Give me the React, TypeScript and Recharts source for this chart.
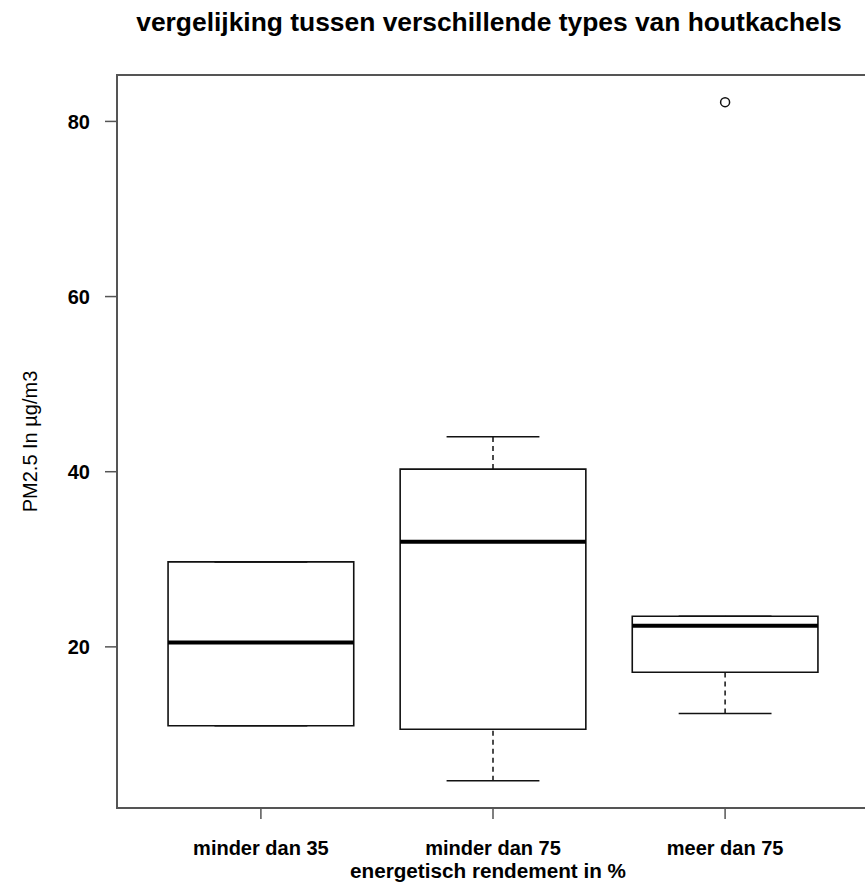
import React from 'react';
import {
  ComposedChart,
  Scatter,
  XAxis,
  YAxis,
  ReferenceArea,
  ReferenceLine,
} from 'recharts';

// values (PM2.5 in µg/m3)
const categories = ['minder dan 35', 'minder dan 75', 'meer dan 75'];
const whiskerLow = [11.0, 4.7, 12.4];
const q1 = [11.0, 10.6, 17.1];
const median = [20.5, 32.0, 22.4];
const q3 = [29.7, 40.3, 23.5];
const whiskerHigh = [29.7, 44.0, 23.5];
const outlierGroup = [3];
const outlierValue = [82.2];
const yTicks = [20, 40, 60, 80];
const xTicks = [1, 2, 3];

const FONT = '"Liberation Sans", Arial, sans-serif';
const INK = '#111';
const FRAME = '#555';

// R style axis extension: 4% on each side
const allValues = [...whiskerLow, ...whiskerHigh, ...outlierValue];
const yMin = Math.min(...allValues);
const yMax = Math.max(...allValues);
const yPad = (yMax - yMin) * 0.04;
const yDomain: [number, number] = [yMin - yPad, yMax + yPad];
const xDomain: [number, number] = [0.5 - 0.12, categories.length + 0.5 + 0.12];

const outlierData = outlierGroup.map((g, i) => ({ group: g, value: outlierValue[i] }));

const BOX_HALF = 0.4;
const CAP_HALF = 0.2;

const OpenCircle = (props: any) => (
  <circle cx={props.cx} cy={props.cy} r={4.5} fill="none" stroke={INK} strokeWidth={1.5} />
);

export default function App() {
  return (
    <div
      style={{
        position: 'fixed',
        left: 0,
        top: 0,
        width: 865,
        height: 886,
        overflow: 'hidden',
        background: '#fff',
      }}
    >
      <svg width={986} height={50} style={{ position: 'absolute', left: 0, top: 0 }}>
        <text
          x={489}
          y={31}
          textAnchor="middle"
          fontFamily={FONT}
          fontWeight="bold"
          fontSize={26.4}
          fill="#000"
        >
          vergelijking tussen verschillende types van houtkachels
        </text>
      </svg>
      <ComposedChart
        width={880}
        height={886}
        margin={{ top: 75, right: 11, bottom: 0, left: 0 }}
        style={{ position: 'absolute', left: 0, top: 0 }}
      >
        <XAxis
          dataKey="group"
          type="number"
          domain={xDomain}
          allowDataOverflow
          ticks={xTicks}
          interval={0}
          tickFormatter={(v: number) => categories[v - 1]}
          height={78}
          axisLine={false}
          tickSize={11}
          tickMargin={22}
          tickLine={{ stroke: FRAME, strokeWidth: 1.5 }}
          tick={{ fill: '#000', fontFamily: FONT, fontWeight: 'bold', fontSize: 20 }}
          label={{
            value: 'energetisch rendement in %',
            position: 'insideBottom',
            offset: 8,
            dx: -5,
            fill: '#000',
            fontFamily: FONT,
            fontWeight: 'bold',
            fontSize: 20.7,
          }}
        />
        <YAxis
          dataKey="value"
          type="number"
          domain={yDomain}
          allowDataOverflow
          ticks={yTicks}
          interval={0}
          width={117}
          axisLine={false}
          tickSize={12}
          tickMargin={15}
          tickLine={{ stroke: FRAME, strokeWidth: 1.5 }}
          tick={{ fill: '#000', fontFamily: FONT, fontWeight: 'bold', fontSize: 20 }}
          label={{
            value: 'PM2.5 In µg/m3',
            angle: -90,
            position: 'insideLeft',
            offset: 30,
            style: { textAnchor: 'middle' },
            fill: '#000',
            fontFamily: FONT,
            fontSize: 20,
          }}
        />

        {/* plot frame */}
        <ReferenceArea
          x1={xDomain[0]}
          x2={xDomain[1]}
          y1={yDomain[0]}
          y2={yDomain[1]}
          fill="none"
          stroke={FRAME}
          strokeWidth={2}
          ifOverflow="visible"
        />

        {categories.map((_, i) => {
          const x = i + 1;
          return (
            <React.Fragment key={categories[i]}>
              <ReferenceLine
                segment={[{ x, y: q3[i] }, { x, y: whiskerHigh[i] }]}
                stroke={INK}
                strokeWidth={1.5}
                strokeDasharray="5 4"
              />
              <ReferenceLine
                segment={[{ x, y: whiskerLow[i] }, { x, y: q1[i] }]}
                stroke={INK}
                strokeWidth={1.5}
                strokeDasharray="5 4"
              />
              <ReferenceLine
                segment={[{ x: x - CAP_HALF, y: whiskerHigh[i] }, { x: x + CAP_HALF, y: whiskerHigh[i] }]}
                stroke={INK}
                strokeWidth={1.5}
              />
              <ReferenceLine
                segment={[{ x: x - CAP_HALF, y: whiskerLow[i] }, { x: x + CAP_HALF, y: whiskerLow[i] }]}
                stroke={INK}
                strokeWidth={1.5}
              />
              <ReferenceArea
                x1={x - BOX_HALF}
                x2={x + BOX_HALF}
                y1={q1[i]}
                y2={q3[i]}
                fill="#fff"
                fillOpacity={1}
                stroke={INK}
                strokeWidth={1.6}
              />
              <ReferenceLine
                segment={[{ x: x - BOX_HALF, y: median[i] }, { x: x + BOX_HALF, y: median[i] }]}
                stroke="#000"
                strokeWidth={4}
              />
            </React.Fragment>
          );
        })}

        <Scatter data={outlierData} dataKey="value" shape={OpenCircle} isAnimationActive={false} />
      </ComposedChart>
    </div>
  );
}
